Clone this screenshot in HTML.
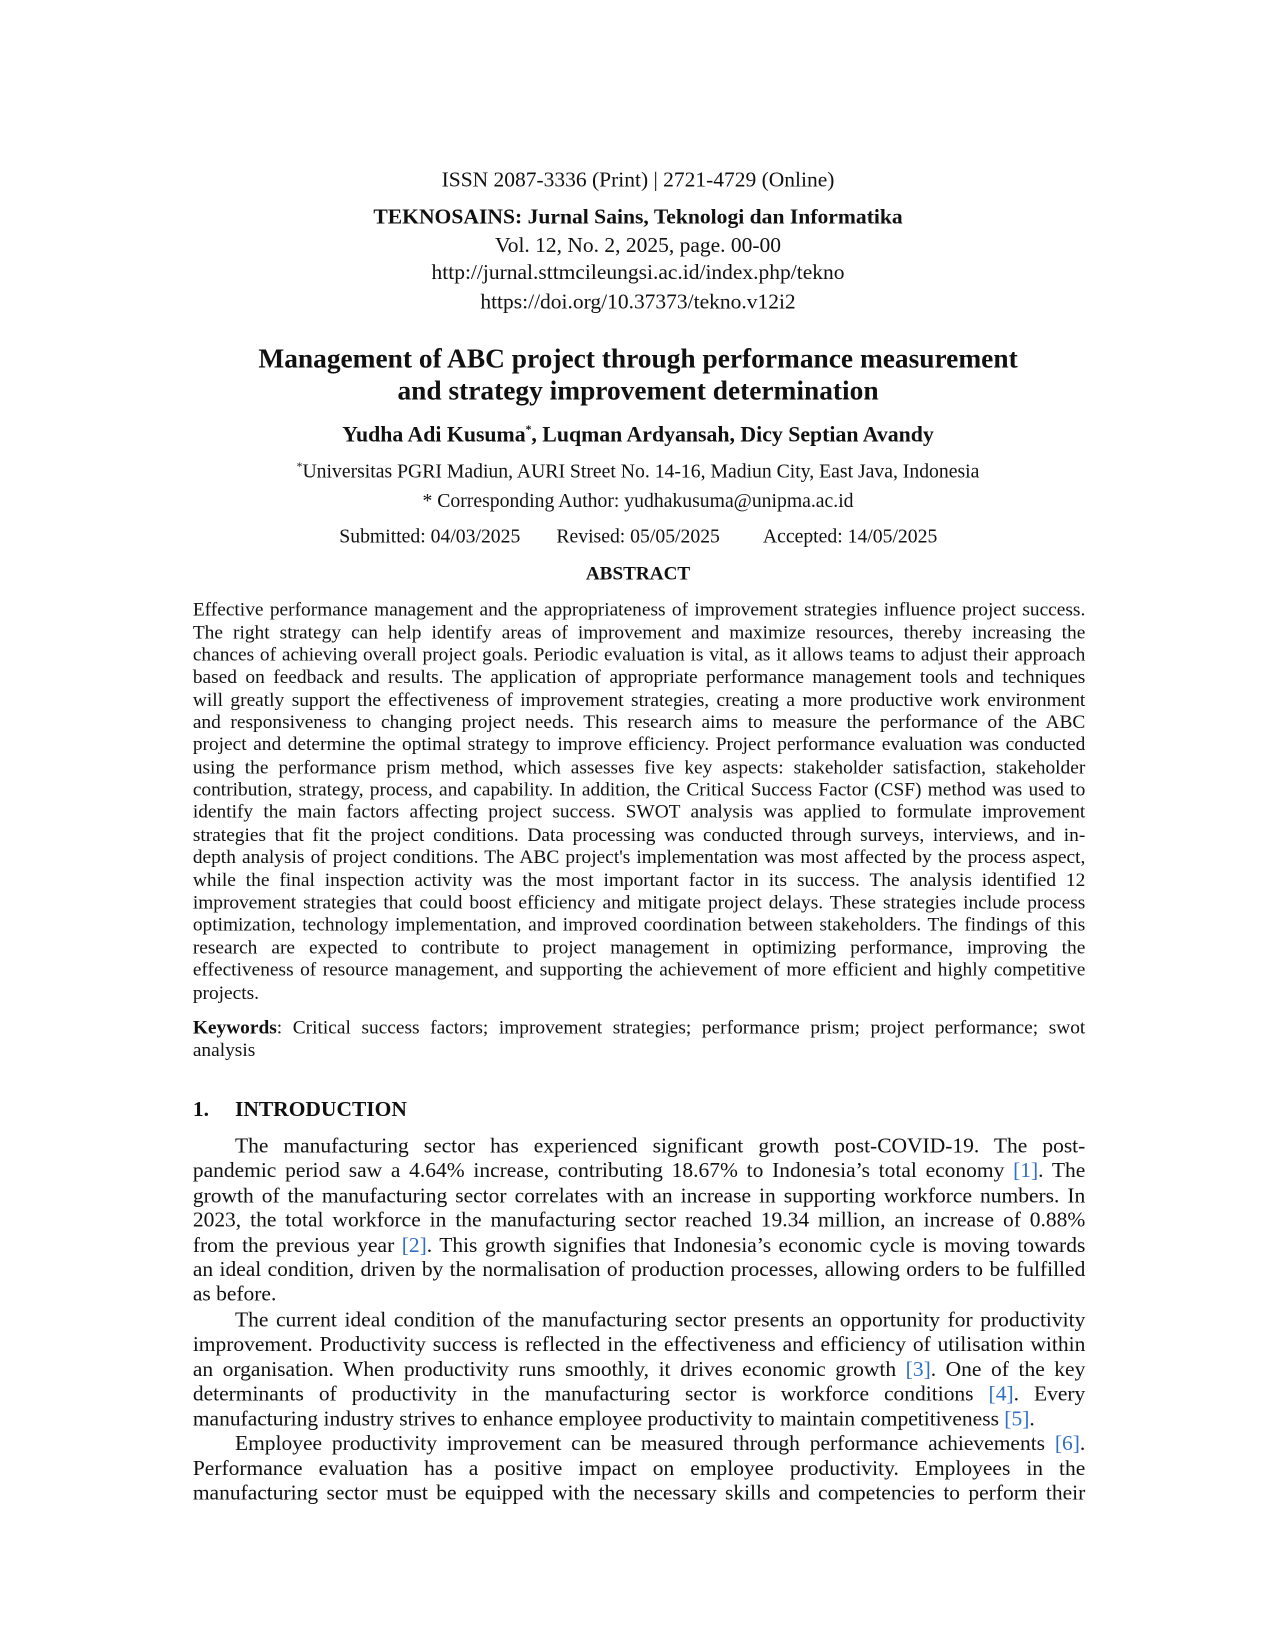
<!DOCTYPE html>
<html><head><meta charset="utf-8"><style>
html,body{margin:0;padding:0;background:#fff;}
body{width:1275px;height:1650px;position:relative;overflow:hidden;font-family:"Liberation Serif",serif;color:#111;}
#w{position:absolute;left:0;top:0;width:1211px;height:1566px;transform:scale(1.0537);transform-origin:0 0;}
.l{position:absolute;white-space:nowrap;height:24px;line-height:24px;}
.c{left:0;width:1211px;text-align:center;}
.j{left:183px;width:847px;text-align:justify;text-align-last:justify;white-space:normal;overflow:visible;}
.a{font-size:18.4px;}
.b{font-size:20.4px;}
.ji{left:223px;width:807px;}
.lk{color:#2f6fc4;}
.n{text-align-last:left;}
</style></head><body><div id="w">
<div class="l c" style="top:159px;font-size:20.4px">ISSN 2087-3336 (Print) | 2721-4729 (Online)</div>
<div class="l c" style="top:194px;font-size:20.5px;font-weight:bold">TEKNOSAINS: Jurnal Sains, Teknologi dan Informatika</div>
<div class="l c" style="top:221px;font-size:20.4px">Vol. 12, No. 2, 2025, page. 00-00</div>
<div class="l c" style="top:247px;font-size:20.4px">http://jurnal.sttmcileungsi.ac.id/index.php/tekno</div>
<div class="l c" style="top:275px;font-size:20.4px">https://doi.org/10.37373/tekno.v12i2</div>
<div class="l c" style="top:326px;height:30px;line-height:30px;font-size:26px;font-weight:bold">Management of ABC project through performance measurement</div>
<div class="l c" style="top:356px;height:30px;line-height:30px;font-size:26px;font-weight:bold">and strategy improvement determination</div>
<div class="l c" style="top:396px;font-size:20.7px;font-weight:bold">Yudha Adi Kusuma<sup style="font-size:11px">*</sup>, Luqman Ardyansah, Dicy Septian Avandy</div>
<div class="l c" style="top:431px;font-size:18.7px"><sup style="font-size:11px">*</sup>Universitas PGRI Madiun, AURI Street No. 14-16, Madiun City, East Java, Indonesia</div>
<div class="l c" style="top:464px;font-size:18.7px">* Corresponding Author: yudhakusuma@unipma.ac.id</div>
<div class="l" style="top:498px;left:322px;font-size:18.7px">Submitted: 04/03/2025</div>
<div class="l" style="top:498px;left:528px;font-size:18.7px">Revised: 05/05/2025</div>
<div class="l" style="top:498px;left:724px;font-size:18.7px">Accepted: 14/05/2025</div>
<div class="l c" style="top:532px;font-size:18.2px;font-weight:bold">ABSTRACT</div>

<div class="l j a" style="top:566px">Effective performance management and the appropriateness of improvement strategies influence project success.</div>
<div class="l j a" style="top:588px">The right strategy can help identify areas of improvement and maximize resources, thereby increasing the</div>
<div class="l j a" style="top:609px">chances of achieving overall project goals. Periodic evaluation is vital, as it allows teams to adjust their approach</div>
<div class="l j a" style="top:630px">based on feedback and results. The application of appropriate performance management tools and techniques</div>
<div class="l j a" style="top:652px">will greatly support the effectiveness of improvement strategies, creating a more productive work environment</div>
<div class="l j a" style="top:673px">and responsiveness to changing project needs. This research aims to measure the performance of the ABC</div>
<div class="l j a" style="top:694px">project and determine the optimal strategy to improve efficiency. Project performance evaluation was conducted</div>
<div class="l j a" style="top:716px">using the performance prism method, which assesses five key aspects: stakeholder satisfaction, stakeholder</div>
<div class="l j a" style="top:737px">contribution, strategy, process, and capability. In addition, the Critical Success Factor (CSF) method was used to</div>
<div class="l j a" style="top:758px">identify the main factors affecting project success. SWOT analysis was applied to formulate improvement</div>
<div class="l j a" style="top:780px">strategies that fit the project conditions. Data processing was conducted through surveys, interviews, and in-</div>
<div class="l j a" style="top:801px">depth analysis of project conditions. The ABC project's implementation was most affected by the process aspect,</div>
<div class="l j a" style="top:823px">while the final inspection activity was the most important factor in its success. The analysis identified 12</div>
<div class="l j a" style="top:844px">improvement strategies that could boost efficiency and mitigate project delays. These strategies include process</div>
<div class="l j a" style="top:865px">optimization, technology implementation, and improved coordination between stakeholders. The findings of this</div>
<div class="l j a" style="top:887px">research are expected to contribute to project management in optimizing performance, improving the</div>
<div class="l j a" style="top:908px">effectiveness of resource management, and supporting the achievement of more efficient and highly competitive</div>
<div class="l j a n" style="top:930px">projects.</div>
<div class="l j a" style="top:963px"><b>Keywords</b>: Critical success factors; improvement strategies; performance prism; project performance; swot</div>
<div class="l j a n" style="top:984px">analysis</div>

<div class="l" style="top:1041px;left:183px;font-size:20.4px;font-weight:bold">1.</div>
<div class="l" style="top:1041px;left:223px;font-size:20.4px;font-weight:bold">INTRODUCTION</div>

<div class="l j b ji" style="top:1076px">The manufacturing sector has experienced significant growth post-COVID-19. The post-</div>
<div class="l j b" style="top:1099px">pandemic period saw a 4.64% increase, contributing 18.67% to Indonesia’s total economy <span class="lk">[1]</span>. The</div>
<div class="l j b" style="top:1123px">growth of the manufacturing sector correlates with an increase in supporting workforce numbers. In</div>
<div class="l j b" style="top:1146px">2023, the total workforce in the manufacturing sector reached 19.34 million, an increase of 0.88%</div>
<div class="l j b" style="top:1170px">from the previous year <span class="lk">[2]</span>. This growth signifies that Indonesia’s economic cycle is moving towards</div>
<div class="l j b" style="top:1193px">an ideal condition, driven by the normalisation of production processes, allowing orders to be fulfilled</div>
<div class="l j b n" style="top:1216px">as before.</div>
<div class="l j b ji" style="top:1241px">The current ideal condition of the manufacturing sector presents an opportunity for productivity</div>
<div class="l j b" style="top:1264px">improvement. Productivity success is reflected in the effectiveness and efficiency of utilisation within</div>
<div class="l j b" style="top:1288px">an organisation. When productivity runs smoothly, it drives economic growth <span class="lk">[3]</span>. One of the key</div>
<div class="l j b" style="top:1311px">determinants of productivity in the manufacturing sector is workforce conditions <span class="lk">[4]</span>. Every</div>
<div class="l j b n" style="top:1335px">manufacturing industry strives to enhance employee productivity to maintain competitiveness <span class="lk">[5]</span>.</div>
<div class="l j b ji" style="top:1358px">Employee productivity improvement can be measured through performance achievements <span class="lk">[6]</span>.</div>
<div class="l j b" style="top:1382px">Performance evaluation has a positive impact on employee productivity. Employees in the</div>
<div class="l j b" style="top:1405px">manufacturing sector must be equipped with the necessary skills and competencies to perform their</div>
</div></body></html>
